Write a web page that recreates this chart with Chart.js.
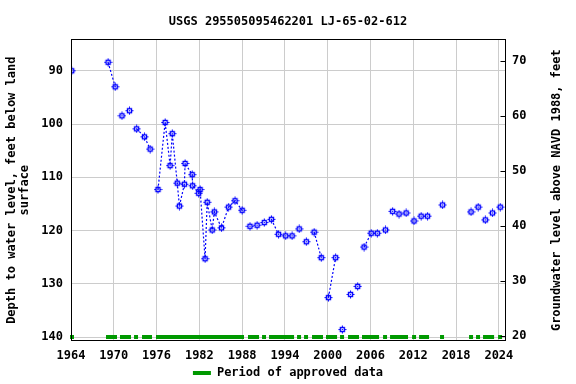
<!DOCTYPE html>
<html><head><meta charset="utf-8">
<script src="https://cdn.jsdelivr.net/npm/chart.js@4/dist/chart.umd.min.js"></script>
<style>html,body{margin:0;padding:0;background:#fff}</style>
</head><body>
<canvas id="c" width="576" height="384"></canvas>
<script>
// ---- data ----
const years  = [1964.1,1969.2,1970.2,1971.15,1972.2,1973.2,1974.3,1975.1,1976.2,1977.2,
                1977.9,1978.2,1978.9,1979.2,1979.9,1980.0,1981.0,1981.05,1981.9,1982.1,
                1982.8,1983.1,1983.8,1984.1,1985.1,1986.1,1987.0,1988.0,1989.1,1990.1,
                1991.1,1992.1,1993.1,1994.1,1995.0,1996.0,1997.0,1998.1,1999.1,2000.1,
                2001.1,2002.05,2003.2,2004.2,2005.1,2006.1,2006.96,2008.1,2009.1,2010.0,
                2011.0,2012.1,2013.1,2014.0,2016.1,2020.1,2021.1,2022.1,2023.1,2024.2];
const depths = [90.0,88.4,93.0,98.45,97.5,100.9,102.4,104.7,112.3,99.7,
                107.8,101.8,111.1,115.4,111.3,107.4,109.5,111.6,113.0,112.3,
                125.3,114.7,119.9,116.5,119.5,115.6,114.4,116.2,119.2,119.0,
                118.5,117.9,120.7,121.0,121.0,119.7,122.1,120.3,125.1,132.6,
                125.1,138.6,132.0,130.5,123.1,120.5,120.5,119.9,116.4,116.9,
                116.7,118.2,117.3,117.3,115.2,116.5,115.6,118.0,116.7,115.6];
// 1 = dotted line drawn from this measurement to the next one
const linked = [0,1,0,0,0,1,1,0,1,1,
                1,1,1,1,1,1,1,1,1,1,
                1,1,1,1,1,1,1,0,0,0,
                0,1,0,0,0,0,0,1,0,1,
                0,0,0,0,1,0,0,0,0,0,
                0,0,0,0,0,0,0,0,0,0];
const approvedStart = [1963.86,1968.91,1970.87,1972.84,1973.96,1975.92,1988.82,1990.79,1991.77,1995.70,
                       1996.68,1997.80,1999.76,2001.73,2002.85,2004.81,2007.76,2008.74,2011.83,2012.81,
                       2015.75,2019.82,2020.80,2021.78,2023.89];
const approvedEnd   = [1964.42,1970.45,1972.41,1973.40,1975.36,1988.26,1990.37,1991.35,1995.28,1996.26,
                       1997.24,1999.34,2001.31,2002.29,2004.39,2007.20,2008.32,2011.26,2012.39,2014.21,
                       2016.31,2020.38,2021.36,2023.33,2024.45];
const xTicks     = [1964,1970,1976,1982,1988,1994,2000,2006,2012,2018,2024];
const depthTicks = [90,100,110,120,130,140];
const elevTicks  = [20,30,40,50,60,70];
const titleText  = 'USGS 295505095462201 LJ-65-02-612';
const leftTitle  = ['Depth to water level, feet below land','surface'];
const rightTitle = 'Groundwater level above NAVD 1988, feet';
const legendText = 'Period of approved data';

// ---- styling ----
const BLUE = '#0000ff', GREEN = '#009900', GRID = '#cccccc';
const FAMILY = "'DejaVu Sans Mono', monospace";
const F12 = {family: FAMILY, size: 12, weight: 'bold'};

function makeMarker() {
  const c = document.createElement('canvas');
  c.width = 9; c.height = 9;
  const g = c.getContext('2d');
  g.strokeStyle = BLUE; g.lineWidth = 1.4;
  g.strokeRect(2.5, 2.5, 4, 4);
  g.fillStyle = BLUE;
  g.fillRect(4, 0.5, 1, 2);
  g.fillRect(4, 6.5, 1, 2);
  g.fillRect(0.5, 4, 2, 1);
  g.fillRect(6.5, 4, 2, 1);
  g.fillRect(4, 4, 1, 1);
  return c;
}

const wl = years.map((x, i) => ({x: x, y: depths[i]}));
const approved = [];
approvedStart.forEach((s, i) => {
  approved.push({x: s, y: 140}, {x: approvedEnd[i], y: 140}, {x: approvedEnd[i], y: null});
});

const framePlugin = {
  id: 'frame',
  afterDatasetsDraw(chart) {
    const {ctx, chartArea: a} = chart;
    const L = Math.round(a.left) + 0.5, R = Math.round(a.right) - 0.5;
    const T = Math.round(a.top) + 0.5, B = Math.round(a.bottom) - 0.5;
    ctx.save();
    ctx.strokeStyle = '#000'; ctx.lineWidth = 1;
    ctx.strokeRect(L, T, R - L, B - T);
    const y2 = chart.scales.y2;
    ctx.beginPath();
    y2.ticks.forEach(t => {
      const y = Math.round(y2.getPixelForValue(t.value)) + 0.5;
      ctx.moveTo(R - 5, y); ctx.lineTo(R, y);
    });
    ctx.stroke();
    ctx.fillStyle = '#000';
    ctx.font = 'bold 12px ' + FAMILY;
    ctx.textAlign = 'center'; ctx.textBaseline = 'middle';
    ctx.translate(557, (a.top + a.bottom) / 2);
    ctx.rotate(-Math.PI / 2);
    ctx.fillText(rightTitle, 0, 0);
    ctx.restore();
  }
};

new Chart(document.getElementById('c'), {
  type: 'scatter',
  data: {datasets: [
    {label: 'Water level', data: wl, showLine: true, borderColor: BLUE, borderWidth: 1.2,
     borderDash: [2, 2], pointStyle: makeMarker(), pointRadius: 4, order: 1,
     segment: {borderColor: c => linked[c.p0DataIndex] ? BLUE : 'rgba(0,0,0,0)'}},
    {label: legendText, data: approved, showLine: true, borderColor: GREEN, backgroundColor: GREEN,
     borderWidth: 4, borderCapStyle: 'butt', pointRadius: 0, spanGaps: false, clip: false, order: 2}
  ]},
  options: {
    responsive: false, animation: false, devicePixelRatio: 1,
    layout: {padding: {top: 0, left: 0, right: 0, bottom: -5}},
    plugins: {
      title: {display: true, text: titleText, font: F12, color: '#000', padding: {top: 15, bottom: 10}},
      legend: {position: 'bottom', labels: {
        font: F12, color: '#000', boxWidth: 18, boxHeight: 4, padding: 4,
        generateLabels: () => [{text: legendText, fillStyle: GREEN, strokeStyle: GREEN, lineWidth: 0,
                                fontColor: '#000', hidden: false, datasetIndex: 1}]
      }},
      tooltip: {enabled: false}
    },
    scales: {
      x: {type: 'linear', min: 1964, max: 2025,
          afterBuildTicks: s => { s.ticks = xTicks.map(v => ({value: v})); },
          afterFit: s => { s.height = 22; },
          ticks: {callback: v => String(v), font: F12, color: '#000', padding: 8, maxRotation: 0, autoSkip: false},
          grid: {color: GRID, drawTicks: false}, border: {display: false}},
      y: {type: 'linear', reverse: true, min: 84.1, max: 140.75,
          afterBuildTicks: s => { s.ticks = depthTicks.map(v => ({value: v})); },
          afterFit: s => { s.width = 71; },
          ticks: {font: F12, color: '#000', padding: 8},
          grid: {color: GRID, drawTicks: false}, border: {display: false},
          title: {display: true, text: leftTitle, font: {family: FAMILY, size: 12, weight: 'bold', lineHeight: 1.1},
                  color: '#000', padding: {top: 5.4, bottom: 0}}},
      y2: {type: 'linear', position: 'right', min: 19.0, max: 74.0,
           afterBuildTicks: s => { s.ticks = elevTicks.map(v => ({value: v})); },
           afterFit: s => { s.width = 70; },
           ticks: {font: F12, color: '#000', padding: 6},
           grid: {display: false, drawTicks: false}, border: {display: false}}
    }
  },
  plugins: [framePlugin]
});
</script>
</body></html>
